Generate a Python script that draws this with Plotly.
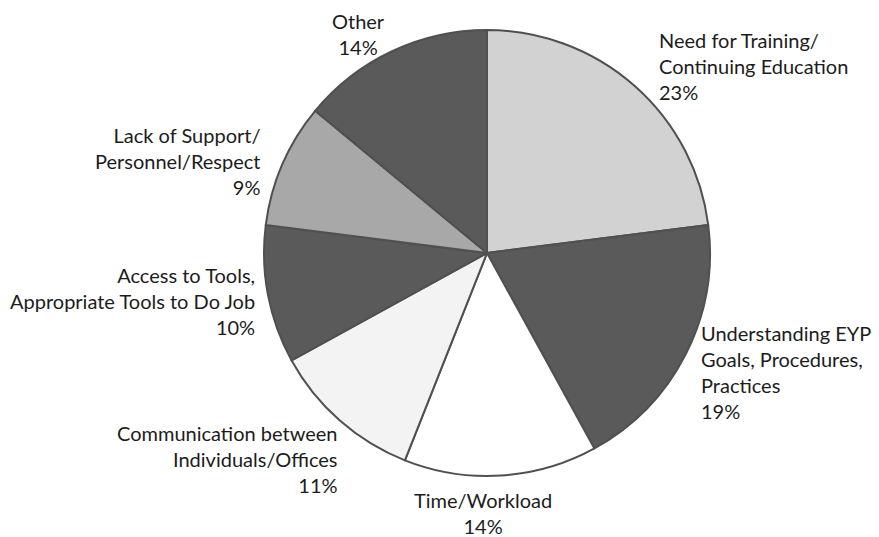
import plotly.graph_objects as go

# ---- data ----
categories = [
    "Need for Training/ Continuing Education",
    "Understanding EYP Goals, Procedures, Practices",
    "Time/Workload",
    "Communication between Individuals/Offices",
    "Access to Tools, Appropriate Tools to Do Job",
    "Lack of Support/ Personnel/Respect",
    "Other",
]
label_lines = [
    ["Need for Training/", "Continuing Education"],
    ["Understanding EYP", "Goals, Procedures,", "Practices"],
    ["Time/Workload"],
    ["Communication between", "Individuals/Offices"],
    ["Access to Tools,", "Appropriate Tools to Do Job"],
    ["Lack of Support/", "Personnel/Respect"],
    ["Other"],
]
values = [23, 19, 14, 11, 10, 9, 14]
colors = ["#d2d2d2", "#5a5a5a", "#ffffff", "#f3f3f3", "#5a5a5a", "#a8a8a8", "#5a5a5a"]

# label anchor positions in pixels (x, y_top, align)
label_pos = [
    (658, 27, "left"),
    (700, 320, "left"),
    (483, 487, "center"),
    (339, 420, "right"),
    (256, 262, "right"),
    (262, 122, "right"),
    (358, 8, "center"),
]

W, H = 879, 537
cx, cy, r = 487, 253, 223

fig = go.Figure(go.Pie(
    labels=categories,
    values=values,
    sort=False,
    direction="clockwise",
    rotation=0,
    textinfo="none",
    hoverinfo="label+percent",
    marker=dict(colors=colors, line=dict(color="#505050", width=2)),
    domain=dict(x=[(cx - r) / W, (cx + r) / W], y=[(H - cy - r) / H, (H - cy + r) / H]),
    showlegend=False,
))

for lines, v, (px, py, al) in zip(label_lines, values, label_pos):
    fig.add_annotation(
        x=px / W, y=1 - py / H, xref="paper", yref="paper",
        text="<br>".join(lines + [f"{v}%"]),
        showarrow=False, align=al, xanchor=al, yanchor="top",
        borderpad=0,
        font=dict(family="Lato", size=20, color="#1c1c1c"),
    )

fig.update_layout(
    width=W, height=H,
    margin=dict(l=0, r=0, t=0, b=0),
    paper_bgcolor="white", plot_bgcolor="white",
)

fig.write_html("out.html")
